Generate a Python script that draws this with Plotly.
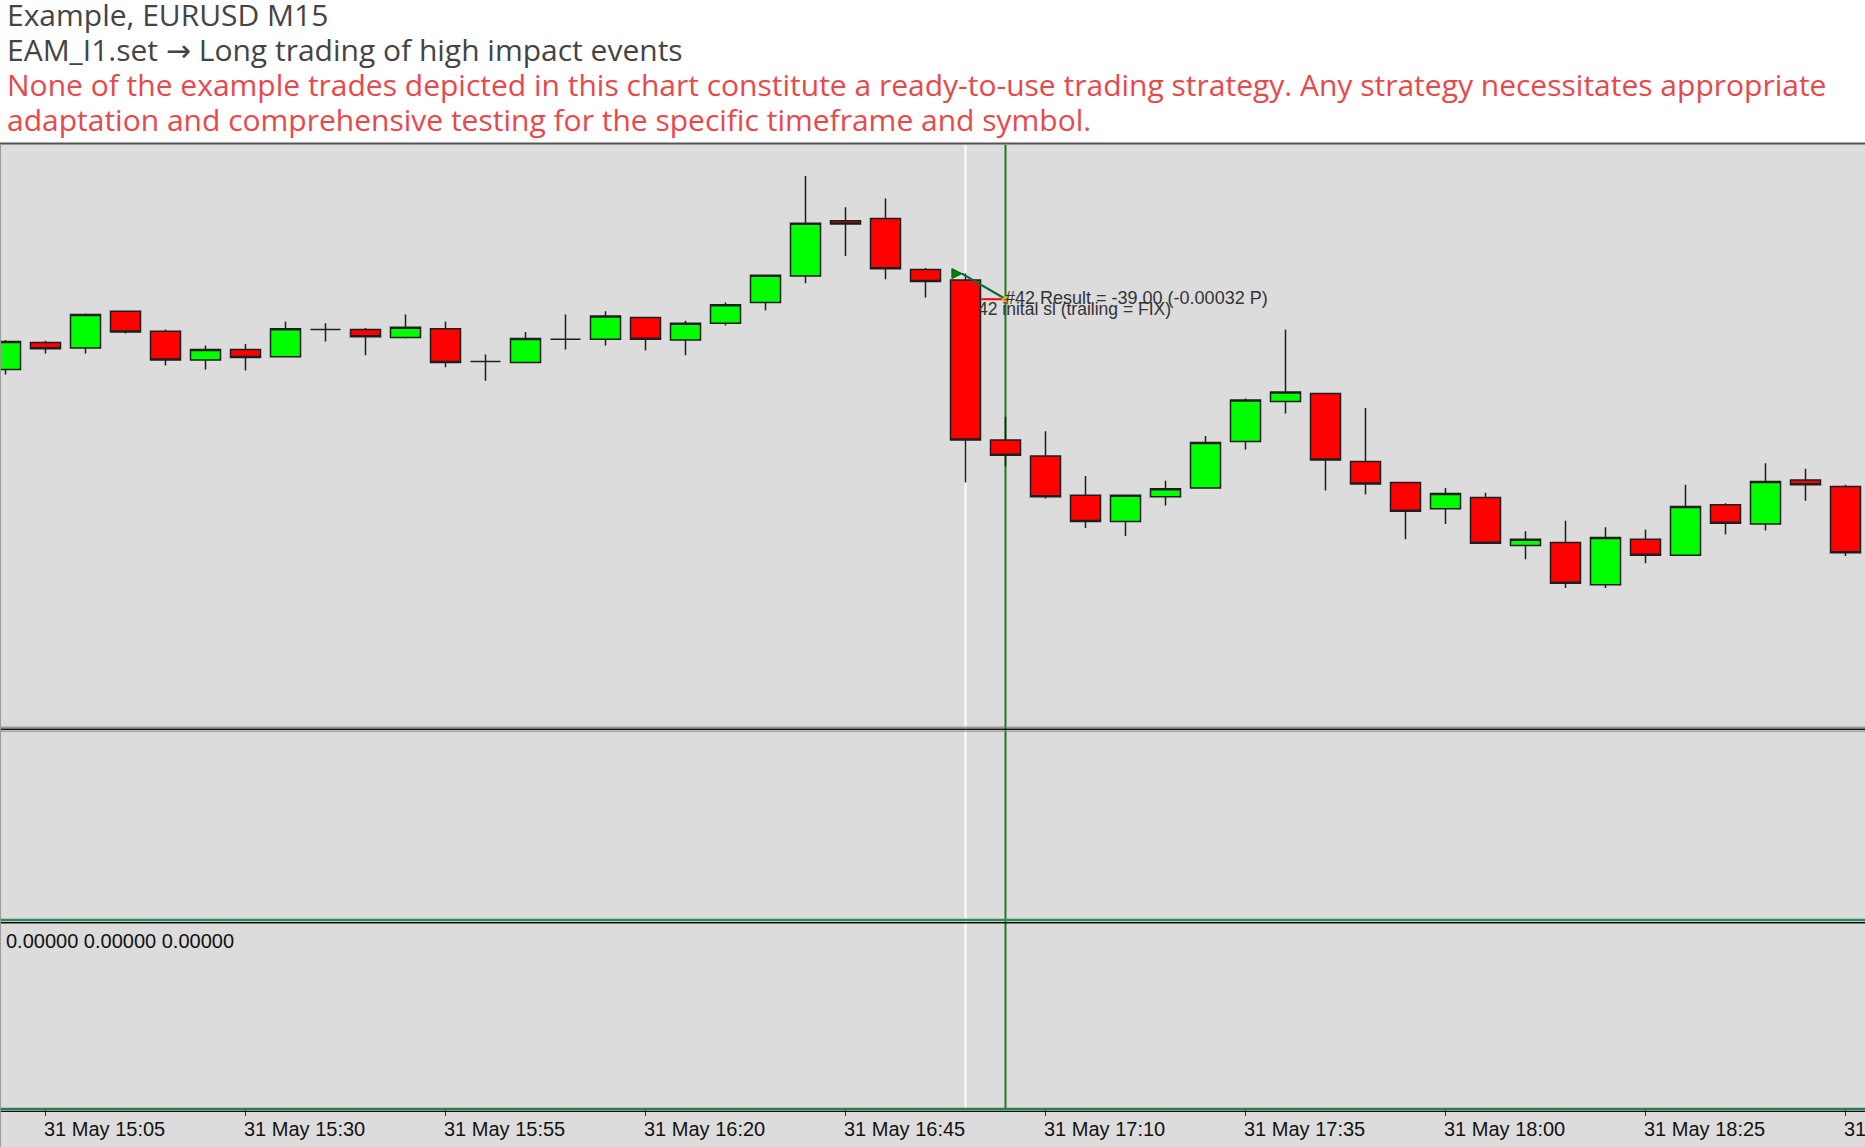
import plotly.graph_objects as go

# ---------------- data ----------------
times = ["2024-05-31 15:00", "2024-05-31 15:05", "2024-05-31 15:10", "2024-05-31 15:15",
         "2024-05-31 15:20", "2024-05-31 15:25", "2024-05-31 15:30", "2024-05-31 15:35",
         "2024-05-31 15:40", "2024-05-31 15:45", "2024-05-31 15:50", "2024-05-31 15:55",
         "2024-05-31 16:00", "2024-05-31 16:05", "2024-05-31 16:10", "2024-05-31 16:15",
         "2024-05-31 16:20", "2024-05-31 16:25", "2024-05-31 16:30", "2024-05-31 16:35",
         "2024-05-31 16:40", "2024-05-31 16:45", "2024-05-31 16:50", "2024-05-31 16:55",
         "2024-05-31 17:00", "2024-05-31 17:05", "2024-05-31 17:10", "2024-05-31 17:15",
         "2024-05-31 17:20", "2024-05-31 17:25", "2024-05-31 17:30", "2024-05-31 17:35",
         "2024-05-31 17:40", "2024-05-31 17:45", "2024-05-31 17:50", "2024-05-31 17:55",
         "2024-05-31 18:00", "2024-05-31 18:05", "2024-05-31 18:10", "2024-05-31 18:15",
         "2024-05-31 18:20", "2024-05-31 18:25", "2024-05-31 18:30", "2024-05-31 18:35",
         "2024-05-31 18:40", "2024-05-31 18:45", "2024-05-31 18:50"]

opens = [1.08262, 1.08296, 1.08289, 1.08335, 1.08310, 1.08274, 1.08287, 1.08278,
         1.08312, 1.08312, 1.08302, 1.08313, 1.08272, 1.08271, 1.08300, 1.08300,
         1.08327, 1.08299, 1.08320, 1.08346, 1.08379, 1.08448, 1.08451, 1.08387,
         1.08374, 1.08174, 1.08154, 1.08105, 1.08072, 1.08103, 1.08114, 1.08172,
         1.08222, 1.08232, 1.08147, 1.08121, 1.08088, 1.08102, 1.08042, 1.08046,
         1.07993, 1.08050, 1.08030, 1.08093, 1.08069, 1.08124, 1.08116]
highs = [1.08299, 1.08298, 1.08332, 1.08335, 1.08312, 1.08292, 1.08294, 1.08322,
         1.08320, 1.08314, 1.08331, 1.08322, 1.08281, 1.08309, 1.08331, 1.08335,
         1.08328, 1.08323, 1.08346, 1.08381, 1.08504, 1.08465, 1.08476, 1.08389,
         1.08382, 1.08203, 1.08185, 1.08129, 1.08105, 1.08123, 1.08179, 1.08226,
         1.08312, 1.08233, 1.08214, 1.08121, 1.08114, 1.08108, 1.08060, 1.08073,
         1.08065, 1.08062, 1.08118, 1.08095, 1.08145, 1.08138, 1.08118]
lows = [1.08256, 1.08282, 1.08282, 1.08307, 1.08267, 1.08262, 1.08261, 1.08277,
        1.08297, 1.08280, 1.08301, 1.08265, 1.08248, 1.08270, 1.08287, 1.08292,
        1.08286, 1.08280, 1.08317, 1.08336, 1.08370, 1.08404, 1.08375, 1.08352,
        1.08121, 1.08141, 1.08101, 1.08064, 1.08054, 1.08092, 1.08113, 1.08162,
        1.08207, 1.08111, 1.08106, 1.08050, 1.08069, 1.08044, 1.08025, 1.07989,
        1.07989, 1.08020, 1.08029, 1.08056, 1.08061, 1.08098, 1.08029]
closes = [1.08297, 1.08288, 1.08331, 1.08309, 1.08274, 1.08287, 1.08277, 1.08313,
          1.08312, 1.08303, 1.08315, 1.08271, 1.08272, 1.08301, 1.08300, 1.08329,
          1.08300, 1.08320, 1.08343, 1.08380, 1.08445, 1.08444, 1.08388, 1.08372,
          1.08174, 1.08155, 1.08103, 1.08072, 1.08105, 1.08113, 1.08171, 1.08224,
          1.08234, 1.08149, 1.08119, 1.08085, 1.08107, 1.08045, 1.08050, 1.07995,
          1.08052, 1.08030, 1.08091, 1.08070, 1.08122, 1.08118, 1.08033]

# trade #42
trade_entry_time = "2024-05-31 16:59:33"
trade_entry_price = 1.08382
trade_exit_time = "2024-05-31 17:05:03"
trade_exit_price = 1.08350
trade_sl_start_time = "2024-05-31 17:02:00"
event_time = "2024-05-31 17:00"
close_line_time = "2024-05-31 17:05"

tick_times = ["2024-05-31 15:05", "2024-05-31 15:30", "2024-05-31 15:55", "2024-05-31 16:20",
              "2024-05-31 16:45", "2024-05-31 17:10", "2024-05-31 17:35", "2024-05-31 18:00",
              "2024-05-31 18:25", "2024-05-31 18:50"]
tick_labels = ["31 May 15:05", "31 May 15:30", "31 May 15:55", "31 May 16:20",
               "31 May 16:45", "31 May 17:10", "31 May 17:35", "31 May 18:00",
               "31 May 18:25", "31 May 18:50"]

title_lines = ["Example, EURUSD M15",
               "EAM_I1.set <span style=\"font-family:'DejaVu Sans'\">\u2192</span> Long trading of high impact events"]
warning_lines = ["None of the example trades depicted in this chart constitute a ready-to-use trading strategy. Any strategy necessitates appropriate",
                 "adaptation and comprehensive testing for the specific timeframe and symbol."]
result_text = "#42 Result = -39.00 (-0.00032 P)"
sl_text = "42 inital sl (trailing = FIX)"
indicator_text = "0.00000 0.00000 0.00000"

# ---------------- layout geometry ----------------
W, H = 1865, 1147
def py(px):
    return (H - px) / H

x_range = ["2024-05-31 14:59:18.75", "2024-05-31 18:52:26.25"]
y_range = [1.07814, 1.08544]
BG = "#DCDCDC"

fig = go.Figure()

fig.add_trace(go.Candlestick(
    x=times, open=opens, high=highs, low=lows, close=closes,
    increasing=dict(fillcolor="#00FF00", line=dict(color="#1e1e1e", width=1.5)),
    decreasing=dict(fillcolor="#FF0000", line=dict(color="#1e1e1e", width=1.5)),
    whiskerwidth=0, showlegend=False, hoverinfo="skip",
    xaxis="x", yaxis="y",
))

# trade lines
fig.add_trace(go.Scatter(
    x=[trade_entry_time, trade_exit_time], y=[trade_entry_price, trade_exit_price],
    mode="lines", line=dict(color="#008000", width=2.2),
    showlegend=False, hoverinfo="skip", xaxis="x", yaxis="y"))
fig.add_trace(go.Scatter(
    x=[trade_entry_time, trade_exit_time], y=[trade_entry_price, trade_exit_price],
    mode="lines", line=dict(color="#1f3fd0", width=1.2, dash="dot"),
    showlegend=False, hoverinfo="skip", xaxis="x", yaxis="y"))
fig.add_trace(go.Scatter(
    x=[trade_sl_start_time, trade_exit_time], y=[trade_exit_price, trade_exit_price],
    mode="lines", line=dict(color="#FF0000", width=2),
    showlegend=False, hoverinfo="skip", xaxis="x", yaxis="y"))
fig.add_trace(go.Scatter(
    x=[trade_entry_time], y=[trade_entry_price], mode="markers",
    marker=dict(symbol="arrow-right", size=10, color="#008000",
                line=dict(color="#006000", width=1)),
    showlegend=False, hoverinfo="skip", xaxis="x", yaxis="y"))
fig.add_trace(go.Scatter(
    x=[trade_exit_time], y=[trade_exit_price], mode="markers",
    marker=dict(symbol="triangle-left", size=10, color="#DAA520"),
    showlegend=False, hoverinfo="skip", xaxis="x", yaxis="y"))

# empty indicator panels (invisible placeholder traces so the subplots exist)
fig.add_trace(go.Scatter(x=[times[0]], y=[-1], mode="markers", marker=dict(opacity=0),
                         showlegend=False, hoverinfo="skip", xaxis="x2", yaxis="y2"))
fig.add_trace(go.Scatter(x=[times[0]], y=[-1], mode="markers", marker=dict(opacity=0),
                         showlegend=False, hoverinfo="skip", xaxis="x3", yaxis="y3"))

shapes = []
# gray chart background
shapes.append(dict(type="rect", xref="paper", yref="paper", x0=0, x1=1,
                   y0=0, y1=py(143), fillcolor=BG, line=dict(width=0), layer="below"))
# vertical event lines (behind candles)
shapes.append(dict(type="line", xref="x", yref="paper", x0=event_time, x1=event_time,
                   y0=py(1108), y1=py(145), line=dict(color="#FFFFFF", width=2), layer="below"))
shapes.append(dict(type="line", xref="x", yref="paper", x0=close_line_time, x1=close_line_time,
                   y0=py(1108), y1=py(145), line=dict(color="#1E7A1E", width=2), layer="below"))
# borders / separators
def hline(px, color, width):
    shapes.append(dict(type="line", xref="paper", yref="paper", x0=0, x1=1,
                       y0=py(px), y1=py(px), line=dict(color=color, width=width), layer="above"))
hline(143.5, "#555555", 2)
hline(727.2, "#777777", 1)
hline(729.2, "#111111", 1.5)
hline(731.2, "#888888", 1)
hline(920, "#2E8B57", 2.5)
hline(922.8, "#111111", 1.5)
hline(1109, "#2E7D4F", 2.5)
hline(1111.4, "#111111", 1.2)
shapes.append(dict(type="line", xref="paper", yref="paper", x0=0.0003, x1=0.0003,
                   y0=0, y1=py(144), line=dict(color="#9a9a9a", width=1), layer="above"))

annotations = []
for i, t in enumerate(title_lines):
    annotations.append(dict(text=t, xref="paper", yref="paper", x=5 / W, y=py(14.5 + 35.3 * i),
                            xanchor="left", yanchor="middle", showarrow=False,
                            font=dict(family="Open Sans", size=30, color="#444444")))
for i, t in enumerate(warning_lines):
    annotations.append(dict(text=t, xref="paper", yref="paper", x=5 / W, y=py(84 + 35.3 * i),
                            xanchor="left", yanchor="middle", showarrow=False,
                            font=dict(family="Open Sans", size=30, color="#E8484A")))
annotations.append(dict(text=result_text, xref="x", yref="y", x=trade_exit_time, y=trade_exit_price,
                        xanchor="left", yanchor="middle", xshift=-3, yshift=1, showarrow=False,
                        font=dict(family="Liberation Sans", size=18, color="#333333")))
annotations.append(dict(text=sl_text, xref="x", yref="y", x=trade_sl_start_time, y=trade_exit_price,
                        xanchor="left", yanchor="middle", xshift=-6, yshift=-10, showarrow=False,
                        font=dict(family="Liberation Sans", size=17.5, color="#333333")))
annotations.append(dict(text=indicator_text, xref="paper", yref="paper", x=4 / W, y=py(941),
                        xanchor="left", yanchor="middle", showarrow=False,
                        font=dict(family="Liberation Sans", size=20, color="#111111")))

ax_common = dict(type="date", range=x_range, showgrid=False, zeroline=False,
                 showline=False, fixedrange=True, automargin=False)
fig.update_layout(
    width=W, height=H,
    margin=dict(l=0, r=0, t=0, b=0, autoexpand=False),
    paper_bgcolor="#FFFFFF", plot_bgcolor=BG,
    boxgap=0.25, boxgroupgap=0,
    showlegend=False,
    xaxis=dict(**ax_common, anchor="y", showticklabels=False, ticks="",
               rangeslider=dict(visible=False)),
    xaxis2=dict(**ax_common, anchor="y2", showticklabels=False, ticks=""),
    xaxis3=dict(**ax_common, anchor="y3", showticklabels=True, ticks="outside",
                ticklen=6, tickwidth=1, tickcolor="#333333",
                tickmode="array", tickvals=tick_times, ticktext=tick_labels,
                ticklabelposition="outside right", ticklabeloverflow="allow",
                ticklabelstandoff=2, ticklabelshift=-2,
                tickfont=dict(family="Liberation Sans", size=20, color="#111111")),
    yaxis=dict(domain=[py(728), py(144)], range=y_range, visible=False, fixedrange=True,
               anchor="x", automargin=False),
    yaxis2=dict(domain=[py(920), py(730)], range=[0, 1], visible=False, fixedrange=True,
                anchor="x2", automargin=False),
    yaxis3=dict(domain=[py(1108.5), py(922)], range=[0, 1], visible=False, fixedrange=True,
                anchor="x3", automargin=False),
    shapes=shapes,
    annotations=annotations,
)

fig.write_html("out.html")
